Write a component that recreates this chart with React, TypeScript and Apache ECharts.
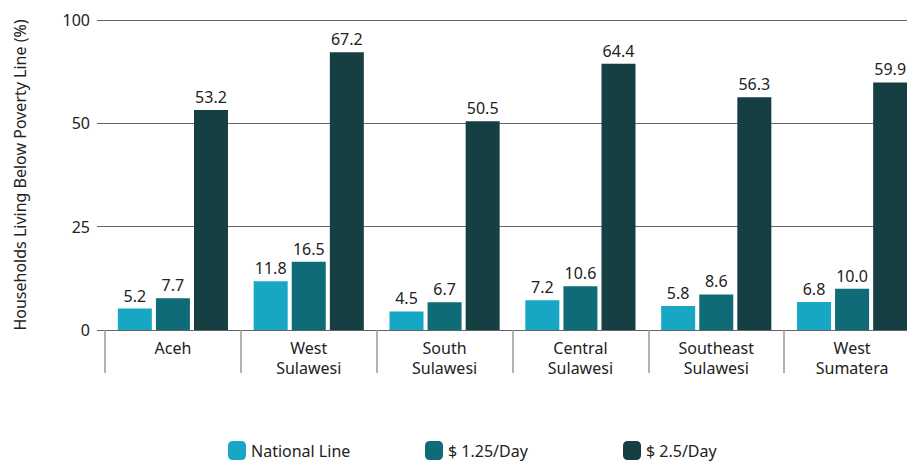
import React, { useEffect, useRef } from "react";
import * as echarts from "echarts";

const categories = ["Aceh", "West\nSulawesi", "South\nSulawesi", "Central\nSulawesi", "Southeast\nSulawesi", "West\nSumatera"];
const nationalLine = [5.2, 11.8, 4.5, 7.2, 5.8, 6.8];
const perDay125 = [7.7, 16.5, 6.7, 10.6, 8.6, 10.0];
const perDay25 = [53.2, 67.2, 50.5, 64.4, 56.3, 59.9];
const seriesNames = ["National Line", "$ 1.25/Day", "$ 2.5/Day"];
const colors = ["#17A6C4", "#0E6B77", "#153F42"];
// tick labels as printed in the source (top gridline is labelled 100)
const tickLabels: Record<number, string> = { 0: "0", 25: "25", 50: "50", 75: "100" };
const legendLefts = [228, 425, 623];

const FONT = "'Noto Sans', sans-serif";

export default function App() {
  const ref = useRef<HTMLDivElement>(null);
  useEffect(() => {
    if (!ref.current) return;
    const chart = echarts.init(ref.current, undefined, { renderer: "svg" });
    const mk = (name: string, data: number[], color: string) => ({
      name,
      type: "bar",
      xAxisIndex: 1,
      yAxisIndex: 1,
      data,
      barWidth: 34,
      barGap: "12%",
      itemStyle: { color },
      label: {
        show: true,
        position: "top",
        distance: 5,
        fontSize: 16,
        fontFamily: FONT,
        color: "#222",
        formatter: (p: any) => Number(p.value).toFixed(1),
      },
    });
    chart.setOption({
      animation: false,
      textStyle: { fontFamily: FONT },
      grid: [
        { left: 97, right: 10, top: 20, bottom: 132 },
        { left: 105, right: 10, top: 20, bottom: 132 },
      ],
      legend: seriesNames.map((n, i) => ({
        top: 441,
        left: legendLefts[i],
        padding: 0,
        itemWidth: 18,
        itemHeight: 19,
        itemGap: 0,
        icon: "roundRect",
        data: [n],
        textStyle: { fontSize: 16, fontFamily: FONT, color: "#222" },
      })),
      xAxis: [
        { type: "value", gridIndex: 0, show: false, min: 0, max: 1 },
        {
          type: "category",
          gridIndex: 1,
          data: categories,
          axisLine: { show: false },
          axisTick: { show: true, length: 43, lineStyle: { color: "#999", width: 1.5 } },
          axisLabel: { fontSize: 16, fontFamily: FONT, color: "#222", margin: 8, lineHeight: 20, interval: 0 },
        },
      ],
      yAxis: [
        {
          type: "value",
          gridIndex: 0,
          min: 0,
          max: 75,
          interval: 25,
          name: "Households Living Below Poverty Line (%)",
          nameLocation: "middle",
          nameGap: 69,
          nameTextStyle: { fontSize: 16, fontFamily: FONT, color: "#222" },
          axisLine: { show: false },
          axisTick: { show: false },
          axisLabel: {
            fontSize: 16,
            fontFamily: FONT,
            color: "#222",
            margin: 7,
            formatter: (v: number) => tickLabels[v] ?? String(v),
          },
          splitLine: { show: true, lineStyle: { color: "#666", width: 1 } },
        },
        { type: "value", gridIndex: 1, min: 0, max: 75, show: false, splitLine: { show: false } },
      ],
      series: [
        mk(seriesNames[0], nationalLine, colors[0]),
        mk(seriesNames[1], perDay125, colors[1]),
        mk(seriesNames[2], perDay25, colors[2]),
      ],
    });
    return () => chart.dispose();
  }, []);
  return (
    <div
      ref={ref}
      style={{ position: "fixed", left: 0, top: 0, width: 930, height: 462, background: "#fff" }}
    />
  );
}
